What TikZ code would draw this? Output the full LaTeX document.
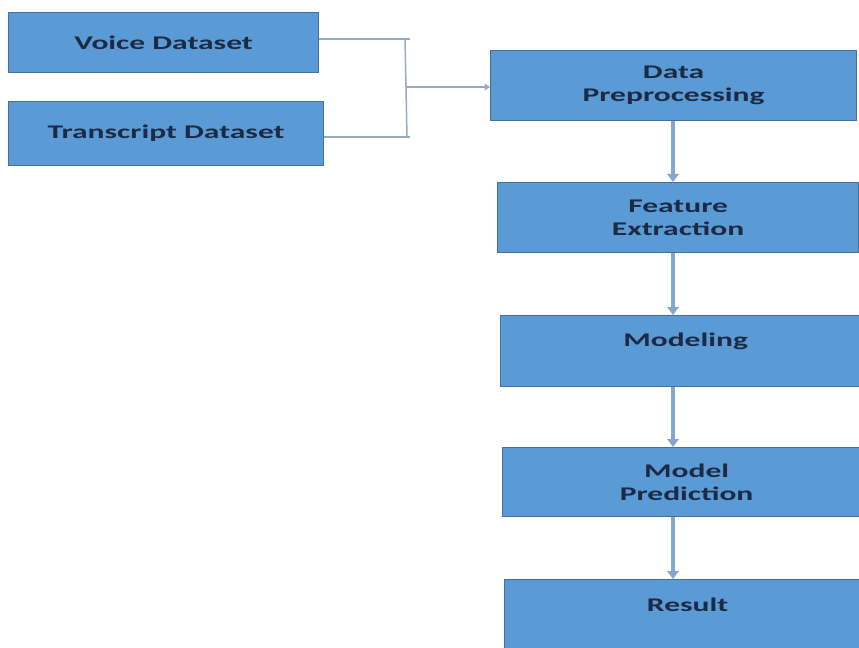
\documentclass[tikz,border=0pt]{standalone}
\usepackage{fontspec}
\setmainfont{Carlito}
\usetikzlibrary{arrows.meta}
\definecolor{boxfill}{HTML}{5B9BD5}
\definecolor{boxborder}{HTML}{41719C}
\definecolor{txt}{HTML}{1C2A45}
\definecolor{arr}{HTML}{86A6CF}
\definecolor{thin}{HTML}{98AABF}
\newcommand\wtext[1]{\scalebox{1.63}[1]{#1}}
\tikzset{
  box/.style={draw=boxborder, fill=boxfill, line width=0.9pt, anchor=north west,
    inner sep=0pt, align=center, text=txt,
    font=\bfseries\fontsize{14.5}{17}\selectfont},
  conn/.style={draw=thin, line width=1.1pt},
  flow/.style={draw=arr, line width=2.4pt, -{Triangle[width=8.5pt,length=6pt]}},
  sideflow/.style={draw=thin, line width=1.1pt, -{Triangle[width=5pt,length=4pt]}}
}
\begin{document}
\begin{tikzpicture}[x=0.75pt,y=-0.75pt]
\useasboundingbox (0,0) rectangle (859,648);
\node[box, minimum width=232.5pt, minimum height=45pt] (V) at (8,12) {\wtext{Voice Dataset}};
\node[box, minimum width=236.25pt, minimum height=48pt] (T) at (8,101) {\wtext{Transcript Dataset}};
\node[box, minimum width=274.5pt, minimum height=52.5pt] (DP) at (490,50) {\wtext{Data}\\\wtext{Preprocessing}};
\node[box, minimum width=270.75pt, minimum height=52.5pt] (FE) at (497,182) {\wtext{Feature}\\\wtext{Extraction}};
\node[box, minimum width=277.5pt, minimum height=53.25pt] (MO) at (500,315) {\wtext{Modeling}\\\phantom{X}};
\node[box, minimum width=276pt, minimum height=51.75pt] (MP) at (502,447) {\wtext{Model}\\\wtext{Prediction}};
\node[box, minimum width=274.5pt, minimum height=75pt] (RE) at (504,579) {\wtext{Result}\\[20.5pt]\phantom{X}};
\coordinate (jt) at (410,39);
\coordinate (jb) at (410,137);
\coordinate (vt) at (405,39);
\coordinate (vb) at (407,137);
\coordinate (jm) at (406,87);
\draw[conn] (V.east |- jt) -- (jt);
\draw[conn] (T.east |- jb) -- (jb);
\draw[conn] (vt) -- (vb);
\draw[sideflow] (jm) -- (DP.west |- jm);
\coordinate (ax) at (673,0);
\draw[flow] (DP.south -| ax) -- (FE.north -| ax);
\draw[flow] (FE.south -| ax) -- (MO.north -| ax);
\draw[flow] (MO.south -| ax) -- (MP.north -| ax);
\draw[flow] (MP.south -| ax) -- (RE.north -| ax);
\end{tikzpicture}
\end{document}
